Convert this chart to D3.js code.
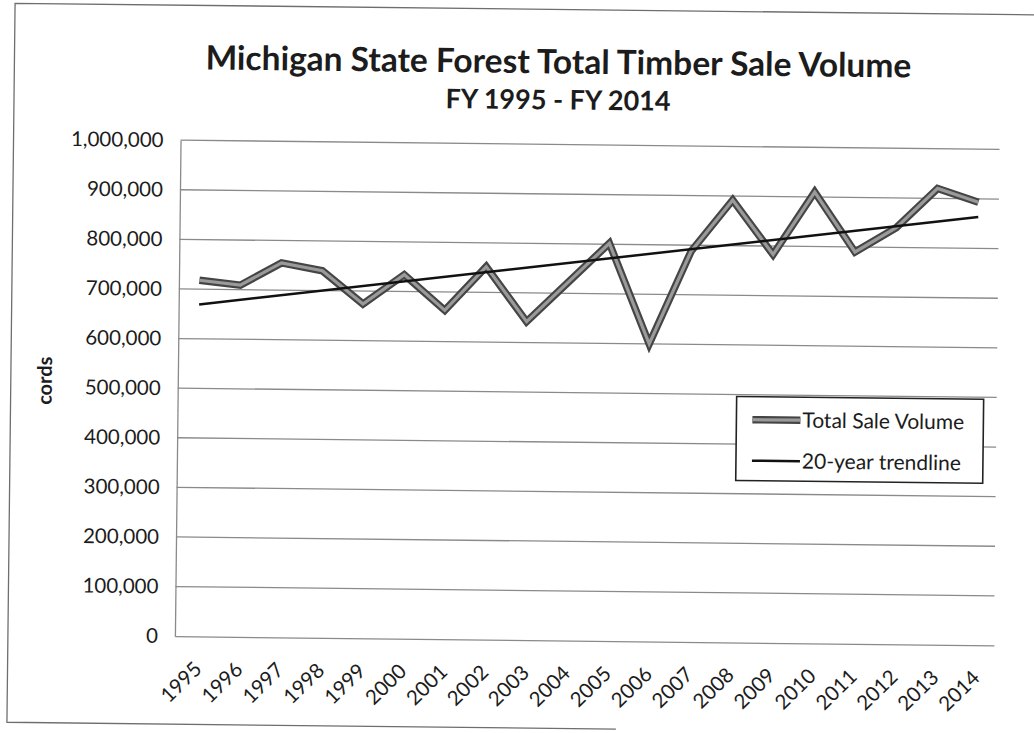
<!DOCTYPE html>
<html>
<head>
<meta charset="utf-8">
<script src="https://cdn.jsdelivr.net/npm/d3@7"></script>
<style>
  body { margin: 0; background: #fff; }
  svg { display: block; font-family: Lato, "Open Sans", sans-serif; }
</style>
</head>
<body>
<svg id="chart" width="1034" height="733"></svg>
<script>
var years = ["1995", "1996", "1997", "1998", "1999", "2000", "2001", "2002", "2003", "2004",
             "2005", "2006", "2007", "2008", "2009", "2010", "2011", "2012", "2013", "2014"];
var saleVolume = [718000, 709000, 755000, 740000, 674000, 734000, 663000, 752000, 642000, 722000,
                  802000, 600000, 788000, 892000, 783000, 910000, 790000, 840000, 920000, 893000];
var yTicks = [0, 100000, 200000, 300000, 400000, 500000, 600000, 700000, 800000, 900000, 1000000];
var seriesNames = ["Total Sale Volume", "20-year trendline"];
var titleText = "Michigan State Forest Total Timber Sale Volume";
var subtitleText = "FY 1995 - FY 2014";
var yAxisTitle = "cords";

var Chart = {
    box: { left: 178, right: 997, top: 144, bottom: 640 },
    ink: "#1c1c1c",
    grid: "#8a8a8a",

    draw: function() {
        var svg = d3.select("#chart");
        // the reference is a scan, slightly turned clockwise
        var g = svg.append("g").attr("transform", "rotate(0.65,517,366)");
        this.g = g;

        this.x = d3.scaleBand().domain(years).range([this.box.left, this.box.right]);
        this.y = d3.scaleLinear().domain([0, 1000000]).range([this.box.bottom, this.box.top]);

        this.frame();
        this.titles();
        this.gridlines();
        this.axes();
        this.series();
        this.legend();
    },

    frame: function() {
        var p = d3.path();
        p.moveTo(620, 728);
        p.lineTo(11, 728);
        p.lineTo(11, 9);
        p.lineTo(1050, 9);
        this.g.append("path").attr("d", p.toString())
            .attr("fill", "none").attr("stroke", "#6e6e6e").attr("stroke-width", 1.3);
    },

    titles: function() {
        this.g.append("text").attr("x", 555).attr("y", 73)
            .attr("text-anchor", "middle").attr("font-weight", 700)
            .attr("font-size", 33.5).attr("fill", this.ink).text(titleText);
        this.g.append("text").attr("x", 555).attr("y", 109)
            .attr("text-anchor", "middle").attr("font-weight", 700)
            .attr("font-size", 27).attr("fill", this.ink).text(subtitleText);
        this.g.append("text")
            .attr("transform", "translate(52,386) rotate(-90)")
            .attr("text-anchor", "middle").attr("font-weight", 700)
            .attr("font-size", 20).attr("fill", this.ink).text(yAxisTitle);
    },

    gridlines: function() {
        var self = this;
        this.g.append("g").selectAll("line")
            .data(yTicks.filter(function(d) { return d > 0; }))
            .join("line")
            .attr("x1", this.box.left).attr("x2", this.box.right)
            .attr("y1", function(d) { return self.y(d); })
            .attr("y2", function(d) { return self.y(d); })
            .attr("stroke", this.grid).attr("stroke-width", 1.3);
    },

    axes: function() {
        var ink = this.ink, grid = this.grid;
        var yAxis = this.g.append("g")
            .attr("transform", "translate(" + this.box.left + ",0)")
            .call(d3.axisLeft(this.y).tickValues(yTicks).tickSize(0).tickPadding(17)
                .tickFormat(d3.format(",")));
        yAxis.selectAll("text").attr("font-size", 20.5).attr("fill", ink)
            .style("font-family", "Lato, sans-serif");

        var xAxis = this.g.append("g")
            .attr("transform", "translate(0," + this.box.bottom + ")")
            .call(d3.axisBottom(this.x).tickSize(0));
        xAxis.selectAll("text")
            .attr("x", 0).attr("y", 0).attr("dy", 0)
            .attr("transform", "translate(8,34) rotate(-45)")
            .attr("text-anchor", "end").attr("font-size", 20.5).attr("fill", ink)
            .style("font-family", "Lato, sans-serif");

        yAxis.select(".domain").attr("stroke", grid).attr("stroke-width", 1.3);
        xAxis.select(".domain").attr("stroke", grid).attr("stroke-width", 1.3);
    },

    series: function() {
        var self = this;
        var pts = years.map(function(yr, i) { return { year: yr, value: saleVolume[i] }; });
        var cx = function(d) { return self.x(d.year) + self.x.bandwidth() / 2; };
        var line = d3.line().x(cx).y(function(d) { return self.y(d.value); });

        this.g.append("path").datum(pts).attr("d", line)
            .attr("fill", "none").attr("stroke", "#454545").attr("stroke-width", 7.5)
            .attr("stroke-linejoin", "miter");
        this.g.append("path").datum(pts).attr("d", line)
            .attr("fill", "none").attr("stroke", "#9a9a9a").attr("stroke-width", 3.2)
            .attr("stroke-linejoin", "miter");

        // least squares fit, like the spreadsheet's linear trendline
        var n = saleVolume.length;
        var mx = d3.mean(d3.range(n)), my = d3.mean(saleVolume);
        var sxy = d3.sum(saleVolume, function(v, i) { return (i - mx) * (v - my); });
        var sxx = d3.sum(d3.range(n), function(i) { return (i - mx) * (i - mx); });
        var slope = sxy / sxx, icpt = my - slope * mx;
        var trend = [0, n - 1].map(function(i) {
            return { year: years[i], value: icpt + slope * i };
        });
        this.g.append("path").datum(trend).attr("d", line)
            .attr("fill", "none").attr("stroke", "#111").attr("stroke-width", 2.5);
    },

    legend: function() {
        var lg = this.g.append("g");
        lg.append("rect").attr("x", 737).attr("y", 394).attr("width", 247).attr("height", 84)
            .attr("fill", "#fff").attr("stroke", "#222").attr("stroke-width", 1.6);

        var rows = [417, 458];
        lg.append("line").attr("x1", 753).attr("x2", 801).attr("y1", rows[0]).attr("y2", rows[0])
            .attr("stroke", "#454545").attr("stroke-width", 7.5);
        lg.append("line").attr("x1", 753).attr("x2", 801).attr("y1", rows[0]).attr("y2", rows[0])
            .attr("stroke", "#9a9a9a").attr("stroke-width", 3.2);
        lg.append("line").attr("x1", 753).attr("x2", 801).attr("y1", rows[1]).attr("y2", rows[1])
            .attr("stroke", "#111").attr("stroke-width", 2.5);

        var ink = this.ink;
        lg.selectAll("text.item").data(seriesNames).join("text")
            .attr("class", "item")
            .attr("x", 803).attr("y", function(d, i) { return rows[i]; })
            .attr("dy", "0.35em").attr("font-size", 21).attr("fill", ink)
            .text(function(d) { return d; });
    }
};

Chart.draw();
</script>
</body>
</html>
